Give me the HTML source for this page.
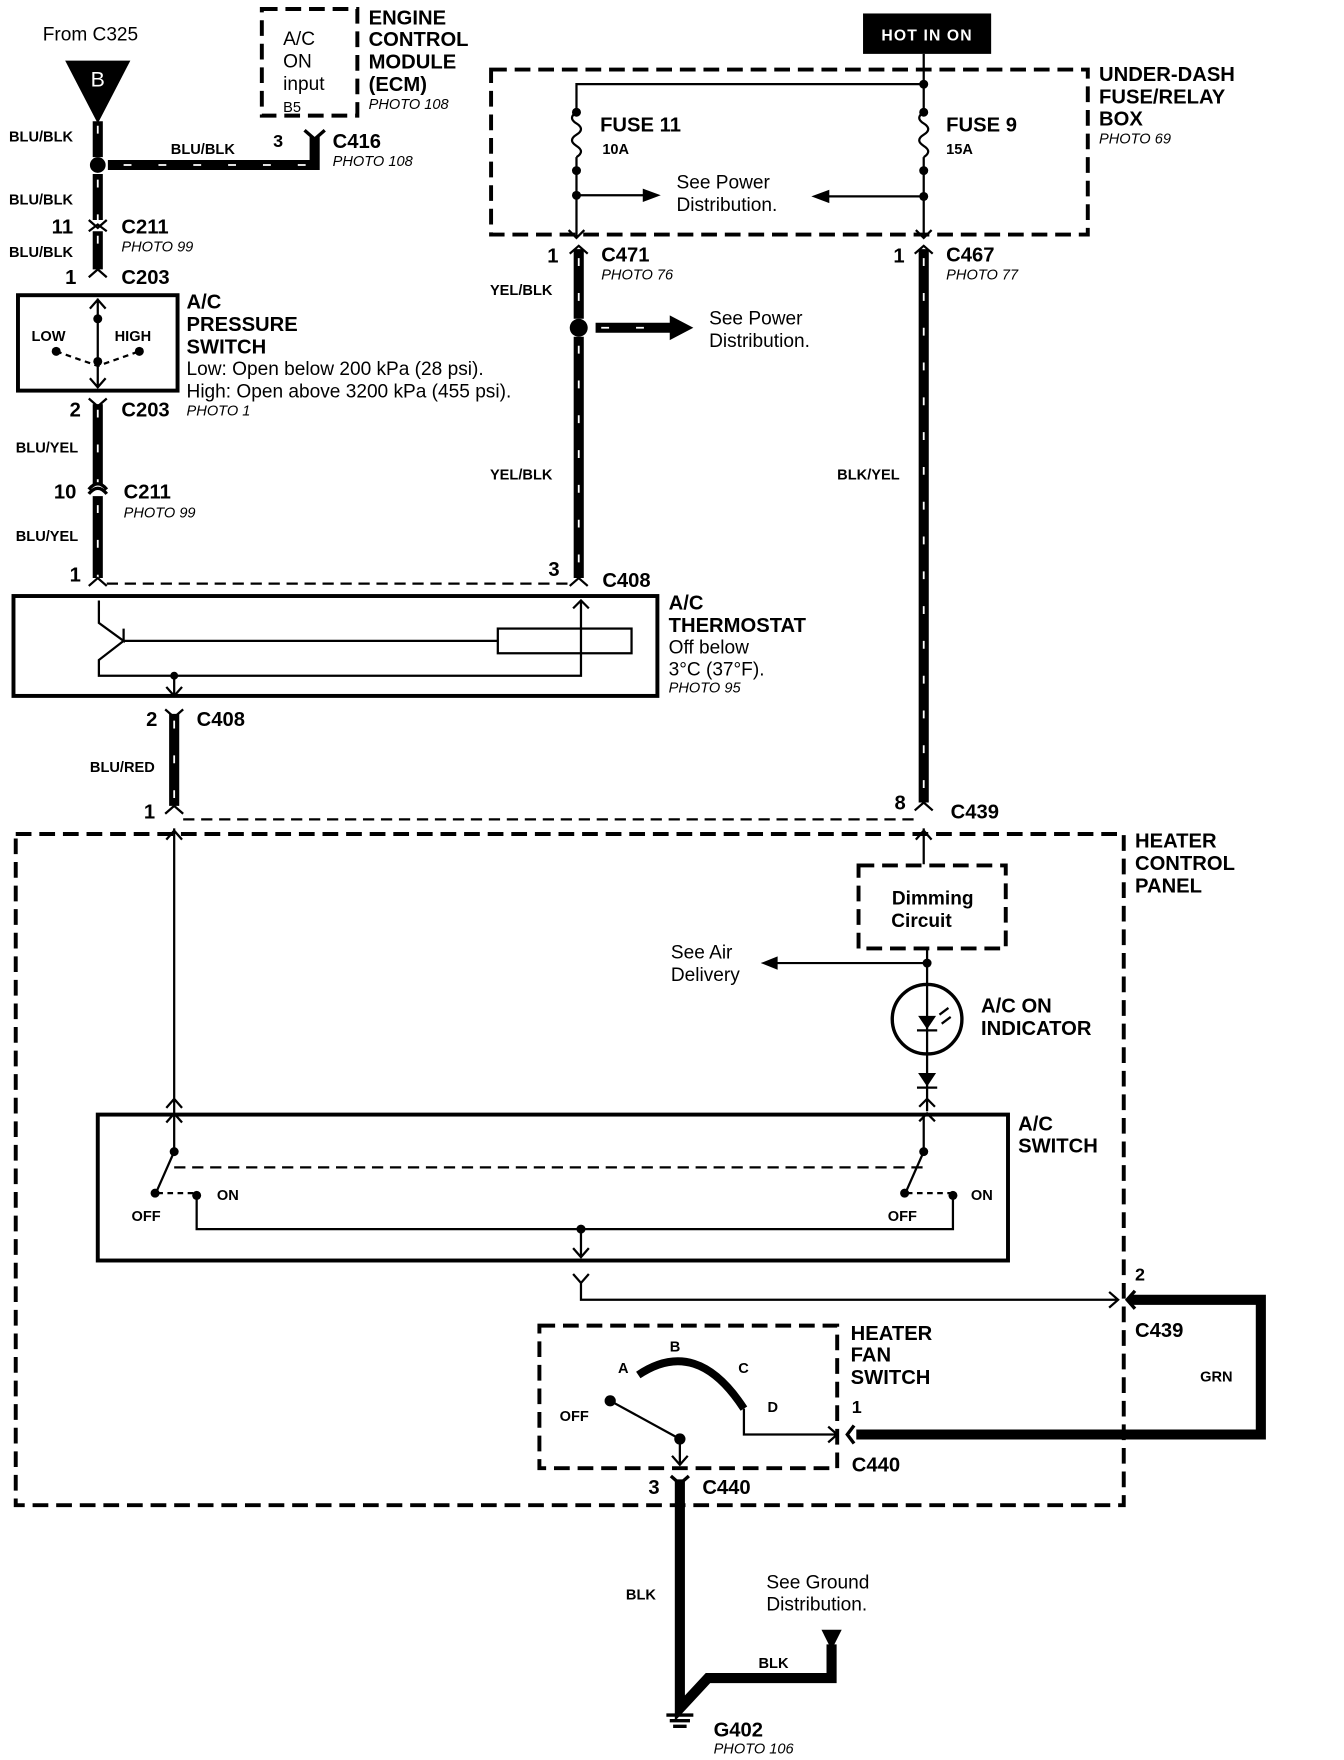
<!DOCTYPE html>
<html><head><meta charset="utf-8"><style>
html,body{margin:0;padding:0;background:#fff;}
svg{display:block;}
text{font-family:"Liberation Sans",Arial,sans-serif;fill:#000;}
.b{font-weight:bold;font-size:18px;}
.s{font-weight:bold;font-size:13px;}
.r{font-size:17px;}
.i{font-style:italic;font-size:13px;}
.w{stroke:#000;stroke-width:9;fill:none;}
.wd{stroke:#fff;stroke-width:1.6;stroke-dasharray:7 24;fill:none;}
.t{stroke:#000;stroke-width:2;fill:none;}
.d{stroke:#000;stroke-width:3.5;fill:none;stroke-dasharray:14 7;}
.bx{stroke:#000;stroke-width:3.5;fill:none;}
</style></head><body>
<svg width="1344" height="1760" viewBox="0 0 1196 1568" preserveAspectRatio="none" xmlns="http://www.w3.org/2000/svg">
<rect width="1196" height="1568" fill="#fff"/>
<text x="38" y="36" class="r">From C325</text>
<polygon points="58,54 116,54 87,110" fill="#000"/>
<text x="87" y="77" class="r" text-anchor="middle" style="fill:#fff;font-size:19px">B</text>
<path class="w" d="M87,108 V140 M87,155 V196 M87,206 V240"/>
<path class="wd" d="M87,112 V140 M87,160 V196 M87,210 V240"/>
<circle cx="87" cy="147" r="7"/>
<path class="w" d="M96,147 H280 V122"/>
<path class="wd" d="M110,147 H276"/>
<path class="t" d="M79,196 L87,203 L95,196 M79,206 L87,200 L95,206 M79,247 L87,240 L95,247"/>
<text x="8" y="126" class="s">BLU/BLK</text>
<text x="152" y="137" class="s">BLU/BLK</text>
<text x="8" y="182" class="s">BLU/BLK</text>
<text x="8" y="229" class="s">BLU/BLK</text>
<text x="243" y="131" class="b" style="font-size:16px">3</text>
<path class="t" d="M271,116 L280,124 L289,116" style="stroke-width:3"/>
<text x="296" y="132" class="b">C416</text>
<text x="296" y="148" class="i">PHOTO 108</text>
<text x="46" y="208" class="b">11</text>
<text x="108" y="208" class="b">C211</text>
<text x="108" y="224" class="i">PHOTO 99</text>
<text x="58" y="253" class="b">1</text>
<text x="108" y="253" class="b">C203</text>
<rect x="233" y="8" width="85" height="95" class="d"/>
<text x="252" y="40" class="r">A/C</text><text x="252" y="60" class="r">ON</text><text x="252" y="80" class="r">input</text>
<text x="252" y="100" class="s" style="font-weight:normal">B5</text>
<text x="328" y="22" class="b">ENGINE</text><text x="328" y="41" class="b">CONTROL</text><text x="328" y="61" class="b">MODULE</text><text x="328" y="81" class="b">(ECM)</text>
<text x="328" y="97" class="i">PHOTO 108</text>
<rect x="16" y="263" width="142" height="85" class="bx"/>
<path class="t" d="M87,266 V345 M80,275 L87,267 L94,275 M80,337 L87,345 L94,337"/>
<circle cx="87" cy="284" r="4"/><circle cx="87" cy="322" r="4"/>
<circle cx="50" cy="313" r="4"/><circle cx="124" cy="313" r="4"/>
<path class="t" d="M50,313 L87,326 L124,313" stroke-dasharray="5 4"/>
<text x="28" y="304" class="s">LOW</text><text x="102" y="304" class="s">HIGH</text>
<text x="166" y="275" class="b">A/C</text><text x="166" y="295" class="b">PRESSURE</text><text x="166" y="315" class="b">SWITCH</text>
<text x="166" y="334" class="r">Low: Open below 200 kPa (28 psi).</text>
<text x="166" y="354" class="r">High: Open above 3200 kPa (455 psi).</text>
<text x="166" y="370" class="i">PHOTO 1</text>
<path class="t" d="M79,355 L87,362 L95,355"/>
<text x="62" y="371" class="b">2</text><text x="108" y="371" class="b">C203</text>
<path class="w" d="M87,360 V432 M87,442 V515"/>
<path class="wd" d="M87,365 V432 M87,450 V515"/>
<path class="t" d="M79,440 Q87,430 95,440 M79,436 Q87,426 95,436" style="stroke-width:3"/>
<text x="14" y="403" class="s">BLU/YEL</text>
<text x="48" y="444" class="b">10</text><text x="110" y="444" class="b">C211</text><text x="110" y="461" class="i">PHOTO 99</text>
<text x="14" y="482" class="s">BLU/YEL</text>
<text x="62" y="518" class="b">1</text>
<path class="t" d="M79,522 L87,515 L95,522"/>
<path class="t" d="M95,520 H508" stroke-dasharray="10 6"/>
<rect x="12" y="531" width="573" height="89" class="bx"/>
<rect x="443" y="560" width="119" height="22" class="t"/>
<path class="t" d="M88,535 V555 L110,571 V560 M110,571 H443 M110,571 L88,588 V602 H517 V535 M510,542 L517,535 L524,542 M155,602 V620 M148,612 L155,620 L162,612"/>
<circle cx="155" cy="602" r="3.5"/>
<text x="595" y="543" class="b">A/C</text><text x="595" y="563" class="b">THERMOSTAT</text>
<text x="595" y="582" class="r">Off below</text><text x="595" y="602" class="r">3°C (37°F).</text><text x="595" y="617" class="i">PHOTO 95</text>
<text x="488" y="513" class="b">3</text><text x="536" y="523" class="b">C408</text>
<path class="t" d="M147,632 L155,639 L163,632"/>
<path class="w" d="M155,636 V718"/><path class="wd" d="M155,642 V718"/>
<text x="130" y="647" class="b">2</text><text x="175" y="647" class="b">C408</text>
<text x="80" y="688" class="s">BLU/RED</text>
<text x="128" y="729" class="b">1</text>
<path class="t" d="M147,725 L155,718 L163,725"/>
<path class="t" d="M163,730 H815" stroke-dasharray="10 6"/>
<path class="t" d="M507,226 L515,219 L523,226"/>
<path class="w" d="M515,222 V284 M515,300 V515"/>
<path class="wd" d="M515,230 V284 M515,308 V515"/>
<path class="t" d="M507,522 L515,515 L523,522"/>
<circle cx="515" cy="292" r="8"/>
<path class="w" d="M530,292 H598"/><path class="wd" d="M535,292 H598"/>
<polygon points="596,281 617,292 596,303" fill="#000"/>
<text x="631" y="289" class="r">See Power</text><text x="631" y="309" class="r">Distribution.</text>
<text x="487" y="234" class="b">1</text><text x="535" y="233" class="b">C471</text><text x="535" y="249" class="i">PHOTO 76</text>
<text x="436" y="263" class="s">YEL/BLK</text><text x="436" y="427" class="s">YEL/BLK</text>
<rect x="437" y="62" width="531" height="147" class="d"/>
<rect x="768" y="12" width="114" height="36" fill="#000"/>
<text x="825" y="36" class="s" text-anchor="middle" style="fill:#fff;font-size:14px;letter-spacing:1px">HOT IN ON</text>
<path class="t" d="M822,48 V75 H513 V100 M513,100 q-8,5 0,10 q8,5 0,10 q-8,5 0,10 q8,5 0,10 M513,140 V212 M506,205 L513,212 L520,205 M513,174 H575"/>
<path class="t" d="M822,75 V100 M822,100 q-8,5 0,10 q8,5 0,10 q-8,5 0,10 q8,5 0,10 M822,140 V212 M815,205 L822,212 L829,205 M822,175 H735"/>
<polygon points="572,168 588,174 572,180" fill="#000"/>
<polygon points="738,169 722,175 738,181" fill="#000"/>
<circle cx="513" cy="100" r="4"/><circle cx="513" cy="152" r="4"/><circle cx="513" cy="174" r="4"/>
<circle cx="822" cy="75" r="4"/><circle cx="822" cy="100" r="4"/><circle cx="822" cy="152" r="4"/><circle cx="822" cy="175" r="4"/>
<text x="534" y="117" class="b">FUSE 11</text><text x="536" y="137" class="s">10A</text>
<text x="842" y="117" class="b">FUSE 9</text><text x="842" y="137" class="s">15A</text>
<text x="602" y="168" class="r">See Power</text><text x="602" y="188" class="r">Distribution.</text>
<text x="978" y="72" class="b">UNDER-DASH</text><text x="978" y="92" class="b">FUSE/RELAY</text><text x="978" y="112" class="b">BOX</text><text x="978" y="128" class="i">PHOTO 69</text>
<path class="t" d="M814,226 L822,219 L830,226"/>
<path class="w" d="M822,222 V715"/><path class="wd" d="M822,230 V715"/>
<path class="t" d="M814,722 L822,715 L830,722"/>
<text x="795" y="234" class="b">1</text><text x="842" y="233" class="b">C467</text><text x="842" y="249" class="i">PHOTO 77</text>
<text x="745" y="427" class="s">BLK/YEL</text>
<text x="796" y="721" class="b">8</text><text x="846" y="729" class="b">C439</text>
<rect x="14" y="743" width="986" height="598" class="d"/>
<text x="1010" y="755" class="b">HEATER</text><text x="1010" y="775" class="b">CONTROL</text><text x="1010" y="795" class="b">PANEL</text>
<path class="t" d="M155,738 V992 M148,748 L155,740 L162,748 M148,987 L155,979 L162,987 M148,1000 L155,992 L162,1000"/>
<path class="t" d="M822,738 V770 M815,748 L822,740 L829,748"/>
<rect x="764" y="771" width="131" height="74" class="d"/>
<text x="830" y="806" class="b" text-anchor="middle" style="font-size:17px">Dimming</text>
<text x="820" y="826" class="b" text-anchor="middle" style="font-size:17px">Circuit</text>
<path class="t" d="M825,845 V990 M825,858 H690"/>
<circle cx="825" cy="858" r="4"/>
<polygon points="692,852 677,858 692,864" fill="#000"/>
<text x="597" y="854" class="r">See Air</text><text x="597" y="874" class="r">Delivery</text>
<circle cx="825" cy="908" r="31" class="t" style="stroke-width:3"/>
<polygon points="817,905 833,905 825,917" fill="#000"/><path class="t" d="M816,918 H834 M836,904 l8,-6 M838,912 l8,-6"/>
<text x="873" y="902" class="b">A/C ON</text><text x="873" y="922" class="b">INDICATOR</text>
<polygon points="817,956 833,956 825,968" fill="#000"/><path class="t" d="M816,969 H834"/>
<path class="t" d="M818,986 L825,979 L832,986 M818,999 L825,992 L832,999"/>
<rect x="87" y="993" width="810" height="130" class="bx"/>
<path class="t" d="M155,993 V1026 L140,1060 M822,993 V1026 L807,1060"/>
<path class="t" d="M155,1040 H822" stroke-dasharray="10 6"/>
<path class="t" d="M140,1063 H175 M807,1063 H848" stroke-dasharray="5 4"/>
<circle cx="155" cy="1026" r="4"/><circle cx="138" cy="1063" r="4"/><circle cx="175" cy="1065" r="4"/>
<circle cx="822" cy="1026" r="4"/><circle cx="805" cy="1063" r="4"/><circle cx="848" cy="1065" r="4"/>
<path class="t" d="M175,1065 V1095 H848 V1065 M517,1095 V1120 M510,1112 L517,1120 L524,1112"/>
<circle cx="517" cy="1095" r="4"/>
<text x="117" y="1088" class="s">OFF</text><text x="193" y="1069" class="s">ON</text>
<text x="790" y="1088" class="s">OFF</text><text x="864" y="1069" class="s">ON</text>
<text x="906" y="1007" class="b">A/C</text><text x="906" y="1027" class="b">SWITCH</text>
<path class="t" d="M510,1135 L517,1143 L524,1135 M517,1143 V1158 H995 M987,1151 L995,1158 L987,1165"/>
<path class="t" d="M1010,1150 L1003,1158 L1010,1166" style="stroke-width:3"/>
<text x="1010" y="1141" class="b" style="font-size:16px">2</text><text x="1010" y="1191" class="b">C439</text>
<path class="w" d="M1005,1158 H1122 V1278 H762"/>
<text x="1068" y="1231" class="s">GRN</text>
<rect x="480" y="1181" width="265" height="127" class="d"/>
<path d="M568,1225 Q620,1190 662,1255" stroke="#000" stroke-width="7" fill="none"/>
<path class="t" d="M662,1255 V1278 H745 M737,1271 L745,1278 L737,1285 M605,1282 L543,1248 M605,1282 V1305 M598,1297 L605,1305 L612,1297"/>
<path class="t" d="M760,1270 L754,1278 L760,1286" style="stroke-width:3"/>
<circle cx="605" cy="1282" r="5"/><circle cx="543" cy="1248" r="5"/>
<text x="550" y="1223" class="s">A</text><text x="596" y="1204" class="s">B</text><text x="657" y="1223" class="s">C</text><text x="683" y="1258" class="s">D</text>
<text x="498" y="1266" class="s">OFF</text>
<text x="757" y="1194" class="b">HEATER</text><text x="757" y="1213" class="b">FAN</text><text x="757" y="1233" class="b">SWITCH</text>
<text x="758" y="1259" class="b" style="font-size:16px">1</text><text x="758" y="1311" class="b">C440</text>
<path class="t" d="M597,1315 L605,1322 L613,1315" style="stroke-width:3"/>
<path class="w" d="M605,1318 V1522 L630,1495 H740 V1465"/>
<polygon points="731,1452 749,1452 740,1470" fill="#000"/>
<path class="t" d="M593,1528 H617 M596,1533 H614 M599,1538 H611" style="stroke-width:3"/>
<text x="577" y="1331" class="b">3</text><text x="625" y="1331" class="b">C440</text>
<text x="557" y="1425" class="s">BLK</text><text x="675" y="1486" class="s">BLK</text>
<text x="682" y="1415" class="r">See Ground</text><text x="682" y="1435" class="r">Distribution.</text>
<text x="635" y="1547" class="b">G402</text><text x="635" y="1562" class="i">PHOTO 106</text>
</svg>
</body></html>
